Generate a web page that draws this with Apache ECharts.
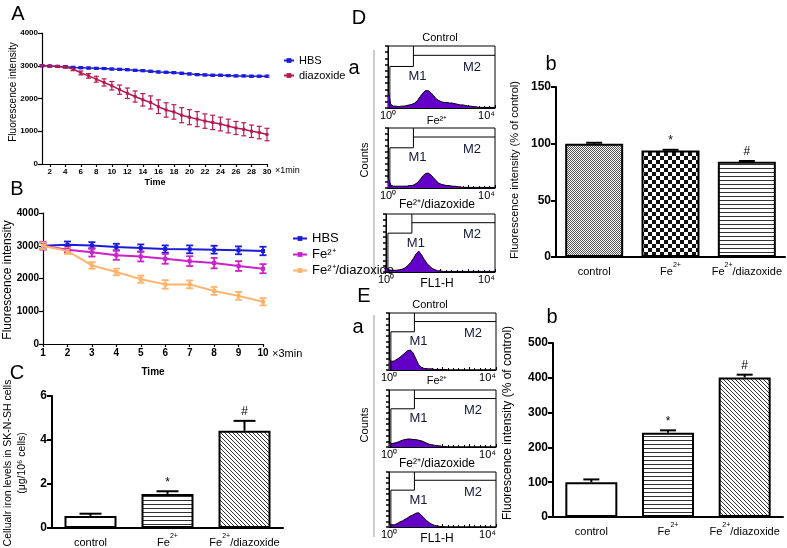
<!DOCTYPE html>
<html>
<head>
<meta charset="utf-8">
<script src="https://cdn.jsdelivr.net/npm/echarts@6/dist/echarts.min.js"></script>
<style>
html, body { margin: 0; padding: 0; background: #fff; }
#chart { width: 787px; height: 548px; }
</style>
</head>
<body>
<div id="chart"></div>
<script>
// panel A: 30 x 1min
const timeA = [1,2,3,4,5,6,7,8,9,10,11,12,13,14,15,16,17,18,19,20,21,22,23,24,25,26,27,28,29,30];
const xTicksA = [2,4,6,8,10,12,14,16,18,20,22,24,26,28,30];
const hbsA = [3000,2990,2980,2970,2950,2940,2930,2920,2915,2900,2890,2880,2860,2850,2830,2810,2800,2790,2770,2750,2730,2720,2710,2710,2700,2690,2690,2680,2680,2680];
const hbsAErr = [30,30,30,30,30,30,30,30,30,30,30,30,30,30,30,30,30,30,30,30,30,30,30,30,30,30,30,30,30,30];
const diazA = [3000,2990,2980,2960,2900,2780,2690,2590,2490,2390,2270,2160,2060,1960,1880,1750,1650,1590,1490,1430,1370,1310,1270,1220,1160,1100,1060,1000,960,900];
const diazAErr = [20,20,25,30,50,60,70,90,110,130,140,160,170,190,200,210,220,220,230,230,230,220,220,210,210,200,200,190,190,190];

// panel B: 10 x 3min
const timeB = [1,2,3,4,5,6,7,8,9,10];
const hbsB = [3000,3030,3010,2960,2930,2900,2890,2880,2860,2840];
const hbsBErr = [90,100,100,100,110,110,120,120,120,130];
const feB = [3000,2880,2800,2710,2670,2600,2530,2470,2380,2300];
const feBErr = [120,80,130,140,150,150,150,160,150,140];
const feDiazB = [3000,2840,2400,2200,1980,1820,1820,1620,1470,1290];
const feDiazBErr = [100,90,100,100,110,130,120,120,120,110];

// bar panels
const groups = ['control', 'Fe²⁺', 'Fe²⁺/diazoxide'];
const sigMarks = ['', '*', '#'];
const ironC = [0.55, 1.55, 4.42];
const ironCErr = [0.1, 0.12, 0.45];
const fluoD = [100, 94, 84];
const fluoDErr = [0.8, 0.6, 0.7];
const fluoE = [100, 242, 401];
const fluoEErr = [8, 7, 8];

// flow histograms, FL1-H in decades, one bin every 0.1 decade
const binStep = 0.1;
const histD1 = [30,6,3,3,2,3,3,4,5,6,8,12,18,24,28,28,25,20,15,12,10,9,9,8,8,7,6,5,5,4,3,3,2,2,1,1,1,1,1,1,1];
const histD2 = [18,5,3,3,3,3,3,3,4,4,6,9,14,20,24,25,22,17,12,8,6,5,4,4,3,3,2,2,1,1,1,1,1,1,1,1,1,1,1,1,1];
const histD3 = [8,4,3,3,3,4,5,7,11,16,23,31,36,30,22,15,10,6,4,2,2,1,1,1,1,1,1,1,1,1,1,1,1,1,1,1,1,1,1,1,1];
const histE1 = [20,15,16,19,22,26,30,34,35,30,20,10,5,3,2,2,2,1,1,1,1,1,0,0,0,0,0,0,0,0,0,0,0,0,0,0,0,0,0,0,0];
const histE2 = [8,6,7,8,10,12,13,14,14,13,13,12,11,9,7,5,4,3,2,2,1,1,0,0,0,0,0,0,0,0,0,0,0,0,0,0,0,0,0,0,0];
const histE3 = [6,4,4,6,9,11,14,17,20,22,25,26,22,17,12,8,5,3,2,1,1,0,0,0,0,0,0,0,0,0,0,0,0,0,0,0,0,0,0,0,0];
const gateM1 = [0.07, 0.95];
const gateM2 = [0.95, 4];
const gateM1Level = 67;
const gateM2Level = 85;

const FONT = "'Liberation Sans', Arial, sans-serif";
const NARROW = "'Liberation Sans Narrow', 'Liberation Sans', Arial, sans-serif";
const BLUE = '#1c1cd8', CRIMSON = '#b51a52', MAGENTA = '#cc22cc', ORANGE = '#ffb36b';
const PURPLE = '#6200c8';

// fill patterns for the bars
function pattern(kind) {
    const c = document.createElement('canvas');
    const n = kind === 'checkBig' ? 8 : (kind === 'checkFine' ? 2 : 4);
    c.width = n; c.height = n;
    const ctx = c.getContext('2d');
    ctx.fillStyle = '#fff';
    ctx.fillRect(0, 0, n, n);
    ctx.fillStyle = '#333';
    if (kind === 'hlines') {
        ctx.fillRect(0, 0, n, 1);
    } else if (kind === 'diag') {
        for (let i = 0; i < n; i++) ctx.fillRect(i, i, 1, 1);
    } else if (kind === 'checkBig') {
        ctx.fillStyle = '#111';
        ctx.fillRect(0, 0, 4, 4);
        ctx.fillRect(4, 4, 4, 4);
    } else if (kind === 'checkFine') {
        ctx.fillStyle = '#555';
        ctx.fillRect(0, 0, 1, 1);
        ctx.fillRect(1, 1, 1, 1);
    }
    return { image: c, repeat: 'repeat' };
}
const patC = [pattern('white'), pattern('hlines'), pattern('diag')];
const patD = [pattern('checkFine'), pattern('checkBig'), pattern('hlines')];
const patE = [pattern('white'), pattern('hlines'), pattern('diag')];

// two-sided error bars for the time courses
function errRender(capHalf, color, lw) {
    return function (params, api) {
        const p1 = api.coord([api.value(0), api.value(1)]);
        const p2 = api.coord([api.value(0), api.value(2)]);
        const s = { stroke: color, lineWidth: lw };
        return { type: 'group', children: [
            { type: 'line', shape: { x1: p1[0], y1: p1[1], x2: p2[0], y2: p2[1] }, style: s },
            { type: 'line', shape: { x1: p1[0] - capHalf, y1: p1[1], x2: p1[0] + capHalf, y2: p1[1] }, style: s },
            { type: 'line', shape: { x1: p2[0] - capHalf, y1: p2[1], x2: p2[0] + capHalf, y2: p2[1] }, style: s }
        ]};
    };
}

// upward error bar + significance mark for the bar charts
function barErrRender(capHalf) {
    return function (params, api) {
        const p1 = api.coord([api.value(0), api.value(1)]);
        const p2 = api.coord([api.value(0), api.value(2)]);
        const s = { stroke: '#000', lineWidth: 2 };
        return { type: 'group', children: [
            { type: 'line', shape: { x1: p1[0], y1: p1[1], x2: p2[0], y2: p2[1] }, style: s },
            { type: 'line', shape: { x1: p2[0] - capHalf, y1: p2[1], x2: p2[0] + capHalf, y2: p2[1] }, style: s },
            { type: 'text', x: p2[0], y: p2[1] - 3, style: { text: sigMarks[api.value(3)], align: 'center', verticalAlign: 'bottom', font: '12px ' + FONT, fill: '#000' } }
        ]};
    };
}

// M1 / M2 gates of the flow histograms
function gateRender(params, api) {
    const a = api.coord([gateM1[0], gateM1Level]);
    const b = api.coord([gateM1[1], gateM1Level]);
    const c = api.coord([gateM2[0], gateM2Level]);
    const d = api.coord([gateM2[1], gateM2Level]);
    const top = api.coord([gateM1[1], 100])[1];
    const bottom = api.coord([gateM1[0], 0])[1];
    const s = { stroke: '#000', lineWidth: 1 };
    const t = { font: '13px ' + FONT, fill: '#15183a', align: 'center', verticalAlign: 'middle' };
    return { type: 'group', children: [
        { type: 'line', shape: { x1: a[0], y1: a[1], x2: b[0], y2: b[1] }, style: s },
        { type: 'line', shape: { x1: a[0], y1: a[1], x2: a[0], y2: bottom }, style: s },
        { type: 'line', shape: { x1: b[0], y1: top, x2: b[0], y2: b[1] }, style: s },
        { type: 'line', shape: { x1: c[0], y1: c[1], x2: d[0], y2: d[1] }, style: s },
        { type: 'text', x: b[0] + 4, y: a[1] + 10, style: Object.assign({ text: 'M1' }, t) },
        { type: 'text', x: d[0] - 23, y: c[1] + 12, style: Object.assign({ text: 'M2' }, t) }
    ]};
}

const blackLine = { color: '#000', width: 1.2 };
const thickLine = { color: '#000', width: 2 };
const plain = v => String(v);

// category names with a raised "2+"
const supLabel = v => v.split('²⁺').map(s => (s ? '{n|' + s + '}' : '')).join('{sup|2+}');

function lineX(gi, min, max, ticks, size) {
    return {
        gridIndex: gi, type: 'value', min: min, max: max,
        interval: ticks ? undefined : 1,
        axisLine: { onZero: false, lineStyle: blackLine },
        axisTick: { customValues: ticks, length: 3, lineStyle: blackLine },
        axisLabel: { customValues: ticks, formatter: plain, fontSize: size, fontWeight: 'bold', color: '#000', margin: 4, fontFamily: NARROW },
        splitLine: { show: false }
    };
}
function lineY(gi, size) {
    return {
        gridIndex: gi, type: 'value', min: 0, max: 4000, interval: 1000,
        axisLine: { show: true, lineStyle: blackLine },
        axisTick: { show: true, length: 4, lineStyle: blackLine },
        axisLabel: { formatter: plain, fontSize: size, fontWeight: 'bold', color: '#000', margin: 4, fontFamily: NARROW },
        splitLine: { show: false }
    };
}
function catX(gi) {
    return {
        gridIndex: gi, type: 'category', data: groups,
        axisLine: { lineStyle: thickLine }, axisTick: { show: false },
        axisLabel: {
            interval: 0, margin: 5, formatter: supLabel,
            rich: {
                n: { fontSize: 11, color: '#000', fontFamily: FONT, verticalAlign: 'bottom', lineHeight: 15 },
                sup: { fontSize: 7, color: '#000', fontFamily: FONT, verticalAlign: 'top', lineHeight: 8 }
            }
        }
    };
}
function barY(gi, max, interval) {
    return {
        gridIndex: gi, type: 'value', min: 0, max: max, interval: interval,
        axisLine: { show: true, lineStyle: thickLine },
        axisTick: { show: true, length: 5, lineStyle: thickLine },
        axisLabel: { formatter: plain, fontSize: 12, fontWeight: 'bold', color: '#000', margin: 5, fontFamily: NARROW },
        splitLine: { show: false }
    };
}
function flowX(gi) {
    return {
        gridIndex: gi, type: 'value', min: 0, max: 4, interval: 1,
        axisLine: { lineStyle: { color: '#000', width: 1 } },
        axisTick: { inside: true, length: 3, lineStyle: { color: '#000' } },
        minorTick: { show: true, splitNumber: 5, length: 2, lineStyle: { color: '#000' } },
        axisLabel: { customValues: [0, 4], formatter: v => (v === 0 ? '10⁰' : '10⁴'), fontSize: 11, color: '#000', margin: 2, alignMaxLabel: 'right', fontFamily: FONT },
        splitLine: { show: false }
    };
}
function flowY(gi) {
    return {
        gridIndex: gi, type: 'value', min: 0, max: 100, interval: 10,
        axisLine: { show: true, lineStyle: { color: '#000', width: 1 } },
        axisTick: { show: true, length: 3, lineStyle: { color: '#000', width: 1.5 } },
        axisLabel: { show: false }, splitLine: { show: false }
    };
}

const flowGrids = [
    { left: 388, top: 46, width: 107, height: 62 },
    { left: 388, top: 128, width: 107, height: 60 },
    { left: 386, top: 214, width: 109, height: 58 },
    { left: 389, top: 313, width: 107, height: 57 },
    { left: 389, top: 390, width: 107, height: 57 },
    { left: 389, top: 472, width: 107, height: 55 }
];
const hists = [histD1, histD2, histD3, histE1, histE2, histE3];

function errData(xs, ys, es) {
    return xs.map((x, i) => [x, ys[i] - es[i], ys[i] + es[i]]);
}
function lineSeries(name, gi, xs, ys, color, lw, size) {
    return {
        name: name, type: 'line', xAxisIndex: gi, yAxisIndex: gi,
        data: xs.map((x, i) => [x, ys[i]]),
        symbol: 'rect', symbolSize: size, color: color,
        lineStyle: { width: lw, color: color }, itemStyle: { color: color }, z: 3
    };
}
function errSeries(gi, xs, ys, es, color, cap, lw) {
    return {
        type: 'custom', xAxisIndex: gi, yAxisIndex: gi,
        data: errData(xs, ys, es), encode: { x: 0, y: [1, 2] },
        renderItem: errRender(cap, color, lw), z: 2, silent: true
    };
}
function barSeries(gi, vals, pats, width) {
    return {
        type: 'bar', xAxisIndex: gi, yAxisIndex: gi, barWidth: width,
        data: vals.map((v, i) => ({ value: v, itemStyle: { color: pats[i] } })),
        itemStyle: { borderColor: '#000', borderWidth: 2 }
    };
}
function barErrSeries(gi, vals, errs, cap) {
    return {
        type: 'custom', xAxisIndex: gi, yAxisIndex: gi,
        data: vals.map((v, i) => [i, v, v + errs[i], i]), encode: { x: 0, y: [1, 2] },
        renderItem: barErrRender(cap), z: 5, silent: true
    };
}

const series = [
    lineSeries('HBS', 0, timeA, hbsA, BLUE, 1.5, 3),
    lineSeries('diazoxide', 0, timeA, diazA, CRIMSON, 1.5, 3),
    errSeries(0, timeA, hbsA, hbsAErr, BLUE, 2.5, 1.2),
    errSeries(0, timeA, diazA, diazAErr, CRIMSON, 2.5, 1.2),
    lineSeries('HBS', 1, timeB, hbsB, BLUE, 2, 4),
    lineSeries('Fe²⁺', 1, timeB, feB, MAGENTA, 2, 4),
    lineSeries('Fe²⁺/diazoxide', 1, timeB, feDiazB, ORANGE, 2, 4),
    errSeries(1, timeB, hbsB, hbsBErr, BLUE, 3.5, 1.8),
    errSeries(1, timeB, feB, feBErr, MAGENTA, 3.5, 1.8),
    errSeries(1, timeB, feDiazB, feDiazBErr, ORANGE, 3.5, 1.8),
    barSeries(2, ironC, patC, 52),
    barErrSeries(2, ironC, ironCErr, 11),
    barSeries(3, fluoD, patD, 58),
    barErrSeries(3, fluoD, fluoDErr, 8),
    barSeries(4, fluoE, patE, 52),
    barErrSeries(4, fluoE, fluoEErr, 8)
];
hists.forEach((h, k) => {
    const gi = 5 + k;
    series.push({
        type: 'line', xAxisIndex: gi, yAxisIndex: gi, symbol: 'none',
        data: h.map((v, i) => [i * binStep, v]),
        lineStyle: { color: '#000', width: 1 },
        areaStyle: { color: PURPLE, opacity: 1 }, silent: true
    });
    series.push({
        type: 'custom', xAxisIndex: gi, yAxisIndex: gi, data: [[0, 0]],
        renderItem: gateRender, z: 4, silent: true
    });
});

function txt(x, y, text, font, opts) {
    return { type: 'text', x: x, y: y, style: Object.assign({ text: text, font: font, fill: '#000', align: 'center', verticalAlign: 'middle' }, opts || {}) };
}
function vtxt(x, y, text, font) {
    return { type: 'text', x: x, y: y, rotation: Math.PI / 2, style: { text: text, font: font, fill: '#000', align: 'center', verticalAlign: 'middle', lineHeight: 14 } };
}

const graphics = [
    txt(18, 14, 'A', '20px ' + FONT),
    txt(17, 189, 'B', '20px ' + FONT),
    txt(17, 373, 'C', '20px ' + FONT),
    txt(359, 18, 'D', '20px ' + FONT),
    txt(364, 296, 'E', '20px ' + FONT),
    txt(354, 68, 'a', '20px ' + FONT),
    txt(358, 327, 'a', '20px ' + FONT),
    txt(551, 64, 'b', '20px ' + FONT),
    txt(552, 317, 'b', '20px ' + FONT),
    txt(155, 183, 'Time', 'bold 9px ' + NARROW),
    txt(153, 372, 'Time', 'bold 10px ' + NARROW),
    txt(275, 171, '×1min', '9px ' + NARROW, { align: 'left' }),
    txt(272, 354, '×3min', '11px ' + NARROW, { align: 'left' }),
    vtxt(13, 92, 'Fluorescence intensity', '10px ' + FONT),
    vtxt(8, 280, 'Fluorescence intensity', '12px ' + FONT),
    vtxt(15, 463, 'Cellualr iron levels in SK-N-SH cells\n(μg/10⁶ cells)', '10.5px ' + FONT),
    vtxt(515, 170, 'Fluorescence intensity (% of control)', '11px ' + FONT),
    vtxt(508, 423, 'Fluorescence intensity (% of control)', '12px ' + FONT),
    txt(440, 38, 'Control', '11px ' + FONT),
    txt(437, 121, 'Fe²⁺', '11px ' + FONT),
    txt(437, 205, 'Fe²⁺/diazoxide', '12px ' + FONT),
    txt(437, 284, 'FL1-H', '12px ' + FONT),
    txt(430, 305, 'Control', '11px ' + FONT),
    txt(437, 381, 'Fe²⁺', '11px ' + FONT),
    txt(437, 464, 'Fe²⁺/diazoxide', '12px ' + FONT),
    txt(437, 539, 'FL1-H', '12px ' + FONT),
    vtxt(365, 160, 'Counts', '11px ' + FONT),
    vtxt(365, 425, 'Counts', '11px ' + FONT),
    { type: 'line', shape: { x1: 374, y1: 50, x2: 374, y2: 275 }, style: { stroke: '#999', lineWidth: 1 } },
    { type: 'line', shape: { x1: 374, y1: 315, x2: 374, y2: 537 }, style: { stroke: '#999', lineWidth: 1 } }
];

const chart = echarts.init(document.getElementById('chart'));
chart.setOption({
    animation: false,
    backgroundColor: '#fff',
    grid: [
        { left: 42, top: 33, width: 225, height: 131 },
        { left: 43, top: 213, width: 220, height: 131 },
        { left: 52, top: 396, width: 231, height: 135 },
        { left: 556, top: 87, width: 229, height: 170 },
        { left: 553, top: 343, width: 230, height: 174 }
    ].concat(flowGrids.map(g => Object.assign({ show: true, borderColor: '#000', borderWidth: 1, backgroundColor: 'transparent' }, g))),
    xAxis: [
        lineX(0, 1, 30, xTicksA, 8),
        lineX(1, 1, 10, null, 10),
        catX(2), catX(3), catX(4)
    ].concat(flowGrids.map((g, k) => flowX(5 + k))),
    yAxis: [
        lineY(0, 8), lineY(1, 10),
        barY(2, 6, 2), barY(3, 150, 50), barY(4, 500, 100)
    ].concat(flowGrids.map((g, k) => flowY(5 + k))),
    legend: [
        { left: 278, top: 50, orient: 'vertical', itemWidth: 10, itemHeight: 6, itemGap: 4,
          data: ['HBS', 'diazoxide'], textStyle: { fontSize: 11, fontFamily: NARROW, color: '#000' } },
        { left: 287, top: 227, orient: 'vertical', itemWidth: 14, itemHeight: 6, itemGap: 3,
          data: ['HBS', 'Fe²⁺', 'Fe²⁺/diazoxide'], textStyle: { fontSize: 13, fontFamily: FONT, color: '#000' } }
    ],
    series: series,
    graphic: graphics
});
</script>
</body>
</html>
